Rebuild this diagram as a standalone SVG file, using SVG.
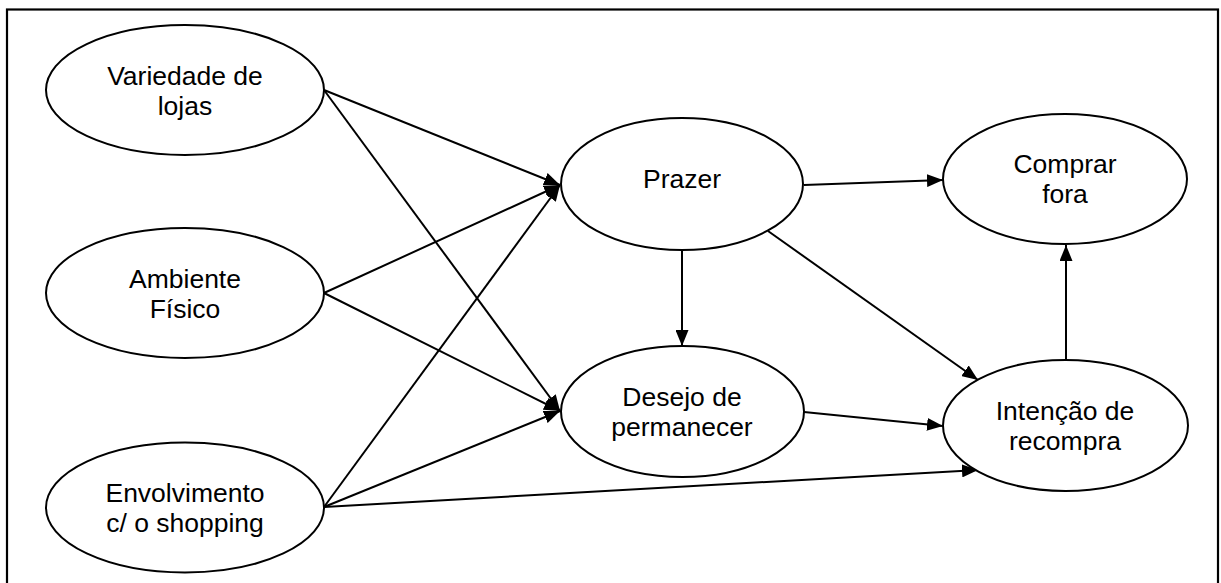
<svg xmlns="http://www.w3.org/2000/svg" width="1221" height="583" viewBox="0 0 1221 583">
  <style>
    .node ellipse { fill: #ffffff; stroke: #000000; stroke-width: 2; }
    .node text { font-family: "Liberation Sans", Arial, sans-serif; font-size: 26.5px; fill: #000000; text-anchor: middle; }
    .edges line { stroke: #000000; stroke-width: 2; marker-end: url(#arrow); }
    .frame { fill: none; stroke: #000000; stroke-width: 2.2; }
  </style>
  <defs>
    <marker id="arrow" markerUnits="userSpaceOnUse" markerWidth="17" markerHeight="13" refX="16" refY="6.5" orient="auto">
      <path d="M0,0 L16,6.5 L0,13 z" fill="#000000"/>
    </marker>
  </defs>

  <rect width="1221" height="583" fill="#ffffff"/>
  <!-- outer frame (bottom edge runs past the canvas) -->
  <rect class="frame" x="7" y="9.5" width="1211" height="590"/>

  <g class="edges" id="connectors">
    <line x1="324" y1="90" x2="560" y2="185"/>
    <line x1="324" y1="293" x2="560" y2="185"/>
    <line x1="324" y1="507" x2="560" y2="185"/>
    <line x1="324" y1="90" x2="560" y2="411"/>
    <line x1="324" y1="293" x2="560" y2="411"/>
    <line x1="324" y1="507" x2="560" y2="411"/>
    <line x1="324" y1="507" x2="978" y2="470"/>
    <line x1="804" y1="185" x2="943" y2="180"/>
    <line x1="682" y1="250" x2="682" y2="346"/>
    <line x1="768" y1="231" x2="978" y2="380"/>
    <line x1="804" y1="412" x2="943" y2="426"/>
    <line x1="1066" y1="360" x2="1066" y2="245"/>
  </g>

  <g class="node" id="variedade">
    <ellipse cx="185" cy="90" rx="139" ry="65"/>
    <text x="185" y="85">Variedade de</text>
    <text x="185" y="115">lojas</text>
  </g>
  <g class="node" id="ambiente">
    <ellipse cx="185" cy="293" rx="139" ry="65"/>
    <text x="185" y="288">Ambiente</text>
    <text x="185" y="318">Físico</text>
  </g>
  <g class="node" id="envolvimento">
    <ellipse cx="185" cy="507.5" rx="139" ry="65"/>
    <text x="185" y="502">Envolvimento</text>
    <text x="185" y="532">c/ o shopping</text>
  </g>
  <g class="node" id="prazer">
    <ellipse cx="682" cy="184" rx="121" ry="66"/>
    <text x="682" y="188">Prazer</text>
  </g>
  <g class="node" id="desejo">
    <ellipse cx="682.5" cy="411.5" rx="121.5" ry="65.5"/>
    <text x="682" y="406">Desejo de</text>
    <text x="682" y="436">permanecer</text>
  </g>
  <g class="node" id="comprar">
    <ellipse cx="1065" cy="179" rx="122" ry="65"/>
    <text x="1065" y="173">Comprar</text>
    <text x="1065" y="203">fora</text>
  </g>
  <g class="node" id="intencao">
    <ellipse cx="1065.5" cy="425.5" rx="122.5" ry="65.5"/>
    <text x="1065" y="420">Intenção de</text>
    <text x="1065" y="450">recompra</text>
  </g>
</svg>
